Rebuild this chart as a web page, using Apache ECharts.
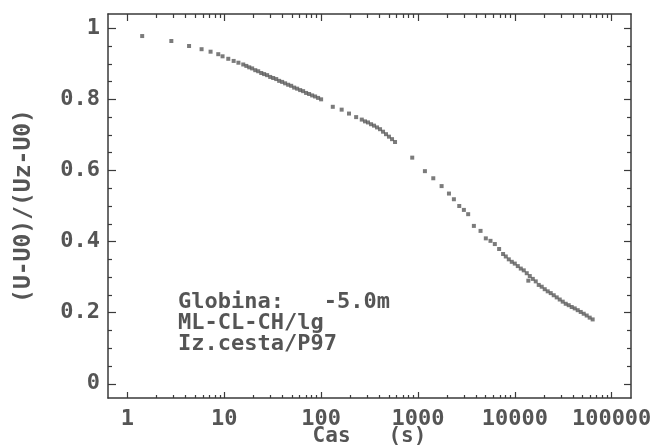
<!DOCTYPE html>
<html>
<head>
<meta charset="utf-8">
<script src="https://cdn.jsdelivr.net/npm/echarts@6/dist/echarts.min.js"></script>
<style>
  html, body { margin: 0; padding: 0; background: #fff; }
  #chart { width: 658px; height: 448px; }
</style>
</head>
<body>
<div id="chart"></div>
<script>
// time (s) and normalised value
var timeS = [
  1.42, 2.84, 4.33, 5.83, 7.22, 8.67, 9.6, 11.0, 12.5, 14.0,
  15.7, 16.9, 18.1, 19.4, 20.9, 22.4, 24.1, 25.8, 27.7, 29.8,
  32.0, 34.4, 36.9, 39.6, 42.5, 45.7, 49.1, 52.7, 56.6, 60.8,
  65.2, 70.0, 75.2, 80.8, 86.7, 93.1, 100,
  132, 163, 194, 230, 263,
  284, 305, 328, 352, 378, 406, 436, 468, 502, 540, 580,
  873, 1180, 1440, 1755, 2090, 2350, 2670, 2980, 3300, 3780,
  4430, 5020, 5610, 6220, 6890, 7570,
  8075, 8670, 9310, 10000, 10740, 11530, 12380, 13290, 13800, 14280,
  15340, 16460, 17670, 18970, 20370, 21880, 23500, 25230, 27100, 29110,
  31260, 33570, 36050, 38720, 41580, 44650, 47950, 51480, 55280, 59360, 63700
];
var ratio = [
  0.978, 0.964, 0.950, 0.941, 0.934, 0.927, 0.921, 0.914, 0.908, 0.903,
  0.898, 0.894, 0.890, 0.887, 0.882, 0.879, 0.874, 0.871, 0.868, 0.863,
  0.860, 0.857, 0.852, 0.849, 0.845, 0.841, 0.838, 0.833, 0.830, 0.826,
  0.823, 0.818, 0.815, 0.811, 0.808, 0.804, 0.800,
  0.779, 0.771, 0.760, 0.750, 0.743,
  0.738, 0.735, 0.730, 0.726, 0.721, 0.716, 0.709, 0.702, 0.695, 0.688, 0.680,
  0.636, 0.598, 0.578, 0.556, 0.535, 0.519, 0.500, 0.489, 0.477, 0.444,
  0.430, 0.409, 0.402, 0.393, 0.379, 0.365,
  0.358, 0.350, 0.343, 0.338, 0.331, 0.324, 0.319, 0.311, 0.290, 0.303,
  0.295, 0.288, 0.278, 0.273, 0.266, 0.260, 0.255, 0.249, 0.243, 0.237,
  0.231, 0.225, 0.221, 0.216, 0.212, 0.207, 0.202, 0.197, 0.192, 0.186, 0.181
];

var xMajor = [1, 10, 100, 1000, 10000, 100000];
var xMinor = [
  2, 3, 4, 5, 6, 7, 8, 9,
  20, 30, 40, 50, 60, 70, 80, 90,
  200, 300, 400, 500, 600, 700, 800, 900,
  2000, 3000, 4000, 5000, 6000, 7000, 8000, 9000,
  20000, 30000, 40000, 50000, 60000, 70000, 80000, 90000
];
var yMajor = [0, 0.2, 0.4, 0.6, 0.8, 1];
var yMinor = [0.05, 0.1, 0.15, 0.25, 0.3, 0.35, 0.45, 0.5, 0.55, 0.65, 0.7, 0.75, 0.85, 0.9, 0.95];

var note = ['Globina:   -5.0m', 'ML-CL-CH/lg', 'Iz.cesta/P97'];

var points = [];
for (var i = 0; i < timeS.length; i++) {
  points.push([timeS[i], ratio[i]]);
}

var FONT = 'DejaVu Sans Mono';
var INK = '#3a3a3a';
var TXT = '#555';

function xAx(pos, ticks, len, withLine, withLabel) {
  return {
    type: 'log', logBase: 10, min: 0.63, max: 158500,
    position: pos, gridIndex: 0,
    axisLine: { show: withLine, onZero: false, lineStyle: { color: INK, width: 1.5 } },
    axisTick: { show: true, inside: true, length: len, customValues: ticks,
      lineStyle: { color: INK, width: 1.2 } },
    axisLabel: withLabel ? {
      show: true, customValues: xMajor, margin: 10,
      fontFamily: FONT, fontSize: 22, fontWeight: 'bold', color: TXT,
      formatter: function (v) { return String(Math.round(v)); }
    } : { show: false },
    splitLine: { show: false }
  };
}
function yAx(pos, ticks, len, withLine, withLabel) {
  return {
    type: 'value', min: -0.04, max: 1.04,
    position: pos, gridIndex: 0,
    axisLine: { show: withLine, onZero: false, lineStyle: { color: INK, width: 1.5 } },
    axisTick: { show: true, inside: true, length: len, customValues: ticks,
      lineStyle: { color: INK, width: 1.2 } },
    axisLabel: withLabel ? {
      show: true, customValues: yMajor, margin: 8,
      fontFamily: FONT, fontSize: 22, fontWeight: 'bold', color: TXT,
      formatter: function (v) { return String(v); }
    } : { show: false },
    splitLine: { show: false }
  };
}

var xAxes = [
  xAx('bottom', xMajor, 6, true, true),
  xAx('bottom', xMinor, 3, false, false),
  xAx('top', xMajor, 7, true, false),
  xAx('top', xMinor, 4, false, false)
];
xAxes[0].name = 'Cas   (s)';
xAxes[0].nameLocation = 'middle';
xAxes[0].nameGap = 28;
xAxes[0].nameMoveOverlap = false;
xAxes[0].nameTextStyle = { fontFamily: FONT, fontSize: 21, fontWeight: 'bold', color: TXT };

var yAxes = [
  yAx('left', yMajor, 8, true, true),
  yAx('left', yMinor, 4, false, false),
  yAx('right', yMajor, 7, true, false),
  yAx('right', yMinor, 4, false, false)
];
yAxes[0].name = '(U-U0)/(Uz-U0)';
yAxes[0].nameLocation = 'middle';
yAxes[0].nameGap = 72;
yAxes[0].nameMoveOverlap = false;
yAxes[0].nameTextStyle = { fontFamily: FONT, fontSize: 23, fontWeight: 'bold', color: TXT };

var chart = echarts.init(document.getElementById('chart'), null, { renderer: 'canvas' });
chart.setOption({
  backgroundColor: '#fff',
  animation: false,
  grid: { left: 108, right: 27, top: 14, bottom: 50, containLabel: false, outerBoundsMode: 'none' },
  xAxis: xAxes,
  yAxis: yAxes,
  graphic: [{
    type: 'text', left: 178, top: 291, silent: true,
    style: {
      text: note.join('\n'), fill: TXT, lineHeight: 21,
      font: 'bold 22px "DejaVu Sans Mono"'
    }
  }],
  series: [{
    name: 'meritve',
    type: 'scatter',
    xAxisIndex: 0, yAxisIndex: 0,
    symbol: 'rect', symbolSize: 4,
    itemStyle: { color: '#5a5a5a' },
    clip: false, silent: true,
    data: points
  }]
});
</script>
</body>
</html>
